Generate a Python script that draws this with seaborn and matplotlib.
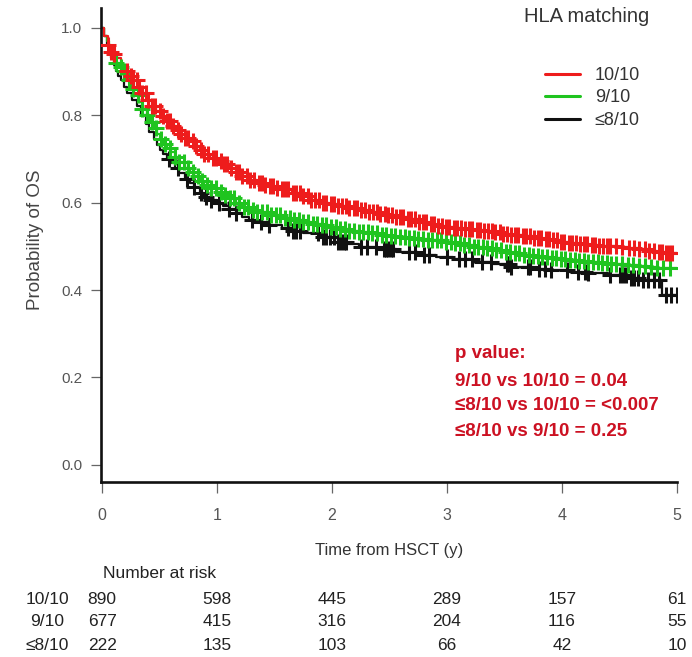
import numpy as np
import pandas as pd
import matplotlib
matplotlib.use("Agg")
import matplotlib.pyplot as plt
import matplotlib.transforms as mtransforms
from matplotlib.lines import Line2D
import seaborn as sns

# ---------------- data ----------------
groups = ["10/10", "9/10", "≤8/10"]
colors = ["#EE1C1C", "#1FC41F", "#111111"]

red_t = [0, 0.02, 0.05, 0.08, 0.1, 0.13, 0.16, 0.2, 0.24, 0.27, 0.31, 0.35, 0.39, 0.43, 0.47, 0.51,
         0.55, 0.6, 0.64, 0.68, 0.72, 0.76, 0.8, 0.85, 0.89, 0.94, 1.0, 1.05, 1.1, 1.16, 1.22, 1.28,
         1.35, 1.4, 1.45, 1.5, 1.56, 1.65, 1.75, 1.82, 1.9, 1.97, 2.05, 2.14, 2.23, 2.32, 2.4, 2.48,
         2.56, 2.65, 2.75, 2.83, 2.9, 2.98, 3.05, 3.14, 3.23, 3.32, 3.4, 3.48, 3.56, 3.65, 3.75,
         3.83, 3.9, 3.98, 4.05, 4.14, 4.23, 4.32, 4.4, 4.48, 4.57, 4.66, 4.75, 4.83, 4.9, 5.0]
red_s = [1.0, 0.98, 0.96, 0.945, 0.94, 0.93, 0.915, 0.90, 0.89, 0.88, 0.865, 0.85, 0.835, 0.82, 0.81, 0.797,
         0.787, 0.775, 0.765, 0.757, 0.748, 0.74, 0.73, 0.72, 0.71, 0.702, 0.695, 0.688, 0.68, 0.67, 0.66, 0.652,
         0.645, 0.641, 0.637, 0.633, 0.63, 0.622, 0.615, 0.607, 0.60, 0.596, 0.592, 0.587, 0.583, 0.579, 0.575, 0.571,
         0.568, 0.562, 0.556, 0.551, 0.546, 0.544, 0.542, 0.54, 0.537, 0.534, 0.532, 0.529, 0.526, 0.523, 0.52,
         0.517, 0.514, 0.511, 0.508, 0.505, 0.503, 0.501, 0.50, 0.498, 0.496, 0.493, 0.49, 0.487, 0.484, 0.484]

green_t = [0, 0.02, 0.04, 0.06, 0.08, 0.1, 0.12, 0.15, 0.18, 0.21, 0.25, 0.28, 0.32, 0.35, 0.39, 0.42,
           0.45, 0.48, 0.5, 0.53, 0.56, 0.6, 0.63, 0.67, 0.72, 0.76, 0.8, 0.85, 0.89, 0.94, 1.0, 1.05,
           1.1, 1.16, 1.22, 1.28, 1.35, 1.45, 1.56, 1.65, 1.75, 1.82, 1.9, 1.97, 2.05, 2.14, 2.23, 2.32,
           2.4, 2.48, 2.56, 2.65, 2.75, 2.83, 2.9, 2.98, 3.05, 3.14, 3.23, 3.32, 3.4, 3.48, 3.56, 3.65,
           3.75, 3.83, 3.9, 3.98, 4.05, 4.14, 4.23, 4.32, 4.4, 4.48, 4.57, 4.66, 4.75, 4.83, 4.9, 5.0]
green_s = [1.0, 0.98, 0.97, 0.955, 0.94, 0.93, 0.92, 0.91, 0.90, 0.88, 0.86, 0.845, 0.83, 0.815, 0.80, 0.785,
           0.77, 0.757, 0.745, 0.735, 0.725, 0.715, 0.705, 0.693, 0.68, 0.67, 0.66, 0.65, 0.64, 0.633, 0.625, 0.618,
           0.61, 0.60, 0.59, 0.584, 0.578, 0.571, 0.565, 0.56, 0.556, 0.552, 0.549, 0.545, 0.54, 0.536, 0.533, 0.53,
           0.527, 0.524, 0.521, 0.519, 0.517, 0.515, 0.514, 0.51, 0.507, 0.503, 0.499, 0.495, 0.492, 0.488, 0.484, 0.481,
           0.478, 0.475, 0.473, 0.47, 0.468, 0.466, 0.464, 0.462, 0.46, 0.459, 0.457, 0.455, 0.453, 0.451, 0.45, 0.45]

black_t = [0, 0.02, 0.04, 0.06, 0.08, 0.1, 0.12, 0.14, 0.16, 0.19, 0.22, 0.26, 0.3, 0.34, 0.38, 0.41,
           0.45, 0.48, 0.5, 0.53, 0.56, 0.6, 0.63, 0.67, 0.72, 0.76, 0.8, 0.85, 0.89, 0.94, 1.0, 1.05,
           1.1, 1.16, 1.22, 1.28, 1.35, 1.45, 1.56, 1.65, 1.75, 1.9, 2.05, 2.14, 2.23, 2.4, 2.56, 2.75,
           2.9, 3.05, 3.23, 3.4, 3.56, 3.75, 3.9, 4.05, 4.23, 4.4, 4.57, 4.7, 4.87, 5.0]
black_s = [1.0, 0.98, 0.96, 0.945, 0.93, 0.915, 0.90, 0.89, 0.88, 0.865, 0.85, 0.835, 0.82, 0.80, 0.78, 0.762,
           0.745, 0.732, 0.72, 0.71, 0.70, 0.69, 0.68, 0.668, 0.655, 0.645, 0.635, 0.623, 0.613, 0.606, 0.60, 0.592,
           0.585, 0.576, 0.567, 0.561, 0.555, 0.548, 0.541, 0.535, 0.53, 0.521, 0.51, 0.505, 0.499, 0.493, 0.487, 0.48,
           0.475, 0.47, 0.465, 0.46, 0.453, 0.449, 0.446, 0.442, 0.439, 0.434, 0.427, 0.423, 0.389, 0.389]

red_censor = [0.05, 0.08, 0.1, 0.22, 0.25, 0.27, 0.3, 0.32, 0.35, 0.38, 0.4, 0.43, 0.46, 0.5, 0.53,
              0.56, 0.59, 0.62, 0.66, 0.69, 0.72, 0.75, 0.79, 0.82, 0.86, 0.89, 0.92, 0.96, 0.99, 1.03,
              1.06, 1.09, 1.12, 1.16, 1.19, 1.22, 1.26, 1.29, 1.32, 1.36, 1.39, 1.42, 1.46, 1.49, 1.52,
              1.56, 1.59, 1.62, 1.66, 1.69, 1.72, 1.75, 1.79, 1.82, 1.85, 1.89, 1.92, 1.95, 1.99, 2.02,
              2.05, 2.09, 2.12, 2.15, 2.19, 2.22, 2.25, 2.29, 2.32, 2.36, 2.39, 2.42, 2.46, 2.49, 2.52,
              2.56, 2.59, 2.62, 2.66, 2.69, 2.72, 2.76, 2.79, 2.82, 2.86, 2.89, 2.92, 2.96, 2.99, 3.02,
              3.06, 3.09, 3.12, 3.16, 3.19, 3.22, 3.26, 3.29, 3.32, 3.36, 3.39, 3.42, 3.46, 3.49, 3.52,
              3.56, 3.59, 3.62, 3.66, 3.69, 3.72, 3.76, 3.79, 3.82, 3.86, 3.89, 3.92, 3.96, 3.99, 4.02,
              4.06, 4.09, 4.12, 4.16, 4.19, 4.22, 4.26, 4.29, 4.32, 4.36, 4.39, 4.42, 4.47, 4.52, 4.58,
              4.63, 4.67, 4.72, 4.76, 4.8, 4.84, 4.87, 4.9, 4.93, 4.96]
green_censor = [0.12, 0.16, 0.19, 0.23, 0.27, 0.31, 0.35, 0.39, 0.43, 0.47, 0.51, 0.55, 0.59, 0.63,
                0.67, 0.71, 0.75, 0.79, 0.83, 0.87, 0.91, 0.95, 0.99, 1.03, 1.07, 1.11, 1.15, 1.19,
                1.23, 1.27, 1.31, 1.35, 1.39, 1.43, 1.47, 1.51, 1.55, 1.59, 1.63, 1.67, 1.71, 1.75,
                1.79, 1.83, 1.87, 1.91, 1.95, 1.99, 2.03, 2.07, 2.11, 2.15, 2.19, 2.23, 2.27, 2.31,
                2.35, 2.39, 2.43, 2.47, 2.51, 2.55, 2.59, 2.63, 2.67, 2.71, 2.75, 2.79, 2.83, 2.87,
                2.91, 2.95, 2.99, 3.03, 3.07, 3.11, 3.15, 3.19, 3.23, 3.27, 3.31, 3.35, 3.39, 3.43,
                3.47, 3.51, 3.55, 3.59, 3.63, 3.67, 3.71, 3.75, 3.79, 3.83, 3.87, 3.91, 3.95, 3.99,
                4.03, 4.07, 4.11, 4.15, 4.19, 4.23, 4.27, 4.31, 4.35, 4.39, 4.43, 4.47, 4.52, 4.57,
                4.62, 4.67, 4.72, 4.77, 4.83, 4.88, 4.94]
black_censor = [0.58, 0.66, 0.74, 0.8, 0.86, 0.9, 0.95, 1.02, 1.1, 1.16, 1.3, 1.38, 1.45, 1.62, 1.66,
                1.69, 1.72, 1.88, 1.92, 1.95, 1.98, 2.02, 2.05, 2.08, 2.1, 2.12, 2.25, 2.3, 2.38, 2.45,
                2.47, 2.49, 2.51, 2.53, 2.67, 2.72, 2.8, 2.84, 3.0, 3.1, 3.16, 3.22, 3.3, 3.38, 3.52,
                3.54, 3.56, 3.7, 3.72, 3.8, 3.85, 3.9, 4.04, 4.14, 4.2, 4.23, 4.42, 4.5, 4.53, 4.56,
                4.6, 4.63, 4.66, 4.7, 4.75, 4.8, 4.84, 4.9, 4.95, 5.0]

risk_times = [0, 1, 2, 3, 4, 5]
risk_10 = [890, 598, 445, 289, 157, 61]
risk_9 = [677, 415, 316, 204, 116, 55]
risk_8 = [222, 135, 103, 66, 42, 10]

x_ticks = [0, 1, 2, 3, 4, 5]
y_ticks = [0.0, 0.2, 0.4, 0.6, 0.8, 1.0]

pvalue_lines = ["p value:", "9/10 vs 10/10 = 0.04", "≤8/10 vs 10/10 = <0.007", "≤8/10 vs 9/10 = 0.25"]

# ---------------- build tables ----------------
curves = pd.concat([
    pd.DataFrame({"time": red_t, "surv": red_s, "group": groups[0]}),
    pd.DataFrame({"time": green_t, "surv": green_s, "group": groups[1]}),
    pd.DataFrame({"time": black_t, "surv": black_s, "group": groups[2]}),
], ignore_index=True)


def censor_frame(ct, t, s, g):
    t = np.asarray(t); s = np.asarray(s); ct = np.asarray(ct)
    idx = np.searchsorted(t, ct, side="right") - 1
    return pd.DataFrame({"time": ct, "surv": s[idx], "group": g})


cens = pd.concat([
    censor_frame(red_censor, red_t, red_s, groups[0]),
    censor_frame(green_censor, green_t, green_s, groups[1]),
    censor_frame(black_censor, black_t, black_s, groups[2]),
], ignore_index=True)

palette = dict(zip(groups, colors))

# ---------------- figure ----------------
sns.set_style("white")
plt.rcParams["font.family"] = ["Liberation Sans", "DejaVu Sans"]

W, H = 692, 657
fig = plt.figure(figsize=(W / 100, H / 100), dpi=100)
ax = fig.add_axes([101 / W, 1 - 482 / H, 576 / W, 474 / H])


def fx(px):
    return px / W


def fy(py):
    return 1 - py / H


# draw in reverse order so red is on top
for g in groups[::-1]:
    sub = curves[curves.group == g]
    sns.lineplot(data=sub, x="time", y="surv", color=palette[g], estimator=None,
                 drawstyle="steps-post", linewidth=1.6, ax=ax, legend=False, sort=True)
    csub = cens[cens.group == g]
    sns.scatterplot(data=csub, x="time", y="surv", color=palette[g], marker="+",
                    s=140, linewidth=2.2, ax=ax, legend=False, zorder=3)

ax.set_xlim(-0.01, 5.0)
ax.set_ylim(-0.039, 1.045)
ax.set_xticks(x_ticks)
ax.set_xticklabels([str(v) for v in x_ticks])
ax.set_yticks(y_ticks)
ax.set_yticklabels([f"{v:.1f}" for v in y_ticks])
ax.set_xlabel("")
ax.set_ylabel("")

for side in ["top", "right"]:
    ax.spines[side].set_visible(False)
for side in ["left", "bottom"]:
    ax.spines[side].set_linewidth(1.9)
    ax.spines[side].set_color("#111111")

ax.tick_params(axis="y", direction="out", length=7.5, width=0.9, color="#666666",
               labelsize=11, labelcolor="#555555", pad=6, left=True)
ax.tick_params(axis="x", direction="out", length=8, width=0.9, color="#666666",
               labelsize=11.5, labelcolor="#555555", pad=11, bottom=True)

# axis labels
fig.text(fx(35), fy(240), "Probability of OS", rotation=90, ha="center", va="center",
         fontsize=13.5, color="#444444")
fig.text(fx(389), fy(550), "Time from HSCT (y)", ha="center", va="center",
         fontsize=12, color="#333333")

# legend
fig.text(fx(587), fy(17), "HLA matching", ha="center", va="center", fontsize=14.5, color="#333333")
handles = [Line2D([0], [0], color=c, lw=2.2) for c in colors]
fig.legend(handles, groups, loc="upper left", bbox_to_anchor=(fx(545), fy(67)),
           bbox_transform=fig.transFigure, frameon=False, fontsize=13,
           handlelength=1.95, handletextpad=0.8, labelspacing=0.3, borderpad=0,
           borderaxespad=0, labelcolor="#333333")

# p values
for line, ypx in zip(pvalue_lines, [354, 381, 406, 431]):
    fig.text(fx(455), fy(ypx), line, ha="left", va="center", fontsize=13.5,
             fontweight="bold", color="#CC1122")

# number at risk table
fig.text(fx(103), fy(573), "Number at risk", ha="left", va="center", fontsize=12.5, color="#222222")
trans = mtransforms.blended_transform_factory(ax.transData, fig.transFigure)
for g, row, ypx in zip(groups, [risk_10, risk_9, risk_8], [600, 622, 645]):
    fig.text(fx(47), fy(ypx), g, ha="center", va="center", fontsize=12.5, color="#222222")
    for t, n in zip(risk_times, row):
        ax.text(t, fy(ypx), str(n), transform=trans, ha="center", va="center",
                fontsize=12.5, color="#222222", clip_on=False)

fig.savefig("out.png", dpi=100)
